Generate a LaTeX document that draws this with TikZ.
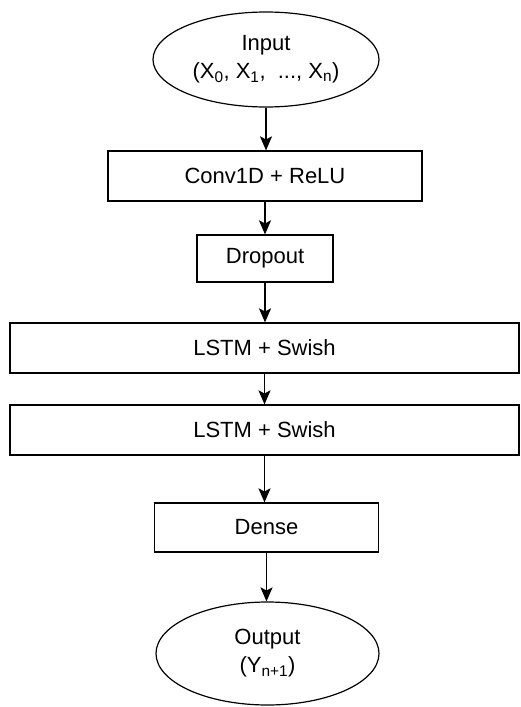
\documentclass[tikz,border=0pt]{standalone}
\usepackage{fontspec}
\setmainfont{Liberation Sans}
\usetikzlibrary{shapes.geometric}
\usetikzlibrary{arrows.meta}

\begin{document}
\begin{tikzpicture}[x=1pt,y=-1pt,
		every node/.style={font=\fontsize{22}{28}\selectfont},
		layerbox/.style={draw,line width=1.2pt,rectangle,inner sep=0pt,minimum height=50pt},
		terminal/.style={draw,line width=1.2pt,ellipse,inner sep=0pt,align=center},
		flow/.style={line width=1.2pt,-{Stealth[length=14pt,width=12pt,inset=3pt]}}]
		\useasboundingbox (0,0) rectangle (520,707);
		% input and output
		\node[terminal,minimum width=226pt,minimum height=95pt] (input) at (266,59.5)
			{Input\\(X\textsubscript{0}, X\textsubscript{1},\ \ ..., X\textsubscript{n})};
		\node[terminal,minimum width=223pt,minimum height=103pt] (output) at (267.5,653.5)
			{Output\\(Y\textsubscript{n+1})};
		% layers
		\node[layerbox,minimum width=314pt] (conv) at (265,176) {Conv1D + ReLU};
		\node[layerbox,minimum width=136pt,minimum height=47pt] (drop) at (265,258.5) {Dropout};
		\node[layerbox,minimum width=509pt] (lstma) at (264.5,348) {LSTM + Swish};
		\node[layerbox,minimum width=509pt] (lstmb) at (264.5,430) {LSTM + Swish};
		\node[layerbox,minimum width=224pt,minimum height=49pt] (dense) at (266.5,527.5) {Dense};
		% arrows
		\draw[flow] (input.south) -- (input.south |- conv.north);
		\draw[flow] (conv.south) -- (conv.south |- drop.north);
		\draw[flow] (drop.south) -- (drop.south |- lstma.north);
		\draw[flow] (lstma.south) -- (lstma.south |- lstmb.north);
		\draw[flow] (lstmb.south) -- (lstmb.south |- dense.north);
		\draw[flow] (dense.south) -- (dense.south |- output.north);
	\end{tikzpicture}
\end{document}
